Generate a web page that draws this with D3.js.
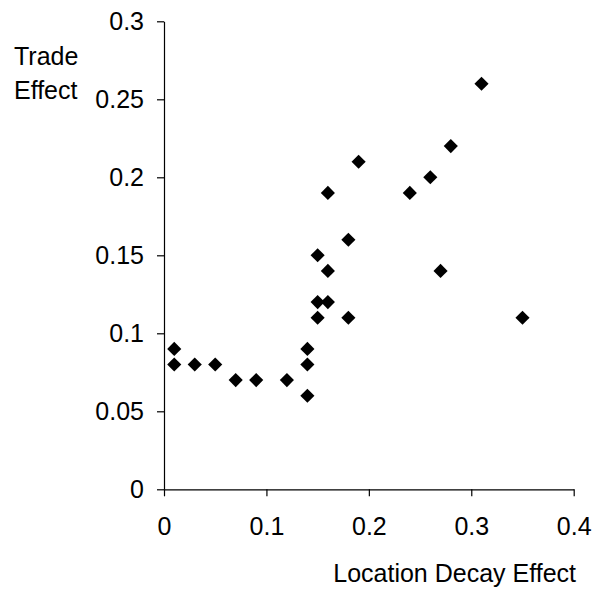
<!DOCTYPE html>
<html>
<head>
<meta charset="utf-8">
<script src="https://cdn.jsdelivr.net/npm/d3@7"></script>
<style>
  body { margin: 0; background: #fff; }
  svg text { font-family: "Liberation Sans", Arial, sans-serif; }
</style>
</head>
<body>
<div id="chart"></div>
<script>
  // values
  var locationDecay = [0.01, 0.01, 0.03, 0.05, 0.07, 0.09, 0.12, 0.14, 0.14, 0.14,
                       0.15, 0.15, 0.16, 0.15, 0.16, 0.16, 0.18, 0.18, 0.19, 0.24,
                       0.26, 0.28, 0.27, 0.31, 0.35];
  var tradeEffect   = [0.09, 0.08, 0.08, 0.08, 0.07, 0.07, 0.07, 0.09, 0.08, 0.06,
                       0.11, 0.12, 0.12, 0.15, 0.14, 0.19, 0.16, 0.11, 0.21, 0.19,
                       0.20, 0.22, 0.14, 0.26, 0.11];
  var xTicks = [0, 0.1, 0.2, 0.3, 0.4];
  var yTicks = [0, 0.05, 0.1, 0.15, 0.2, 0.25, 0.3];

  var width = 596, height = 592;
  var fontSize = 25;

  var svg = d3.select('#chart').append('svg')
        .attr('width', width)
        .attr('height', height);

  var x = d3.scaleLinear().domain([0, 0.4]).range([164, 573.7]);
  var y = d3.scaleLinear().domain([0, 0.3]).range([489.3, 21.3]);

  var fmt = function (d) { return d === 0 ? '0' : String(+d.toFixed(2)); };

  var xAxis = svg.append('g')
        .attr('transform', 'translate(0,' + y(0) + ')')
        .call(d3.axisBottom(x).tickValues(xTicks).tickFormat(fmt)
              .tickSizeInner(7).tickSizeOuter(0).tickPadding(21));

  var yAxis = svg.append('g')
        .attr('transform', 'translate(' + x(0) + ',0)')
        .call(d3.axisLeft(y).tickValues(yTicks).tickFormat(fmt)
              .tickSizeInner(7).tickSizeOuter(0).tickPadding(13));

  [xAxis, yAxis].forEach(function (g) {
    g.selectAll('path, line').attr('stroke', '#000').attr('stroke-width', 1.2);
    g.selectAll('text')
      .attr('fill', '#000')
      .style('font-size', fontSize + 'px')
      .style('font-family', '"Liberation Sans", Arial, sans-serif');
  });

  // diamonds: squares turned 45 degrees
  var diamond = d3.symbol().type(d3.symbolSquare).size(100);
  svg.append('g').selectAll('path')
    .data(locationDecay)
    .enter()
    .append('path')
    .attr('d', diamond)
    .attr('fill', '#000')
    .attr('transform', function (d, i) {
      return 'translate(' + x(d) + ',' + y(tradeEffect[i]) + ') rotate(45)';
    });

  // axis titles
  svg.append('text')
    .attr('x', 14).attr('y', 65)
    .style('font-size', fontSize + 'px')
    .text('Trade');
  svg.append('text')
    .attr('x', 14).attr('y', 99)
    .style('font-size', fontSize + 'px')
    .text('Effect');

  svg.append('text')
    .attr('x', 576).attr('y', 582)
    .attr('text-anchor', 'end')
    .style('font-size', fontSize + 'px')
    .text('Location Decay Effect');
</script>
</body>
</html>
